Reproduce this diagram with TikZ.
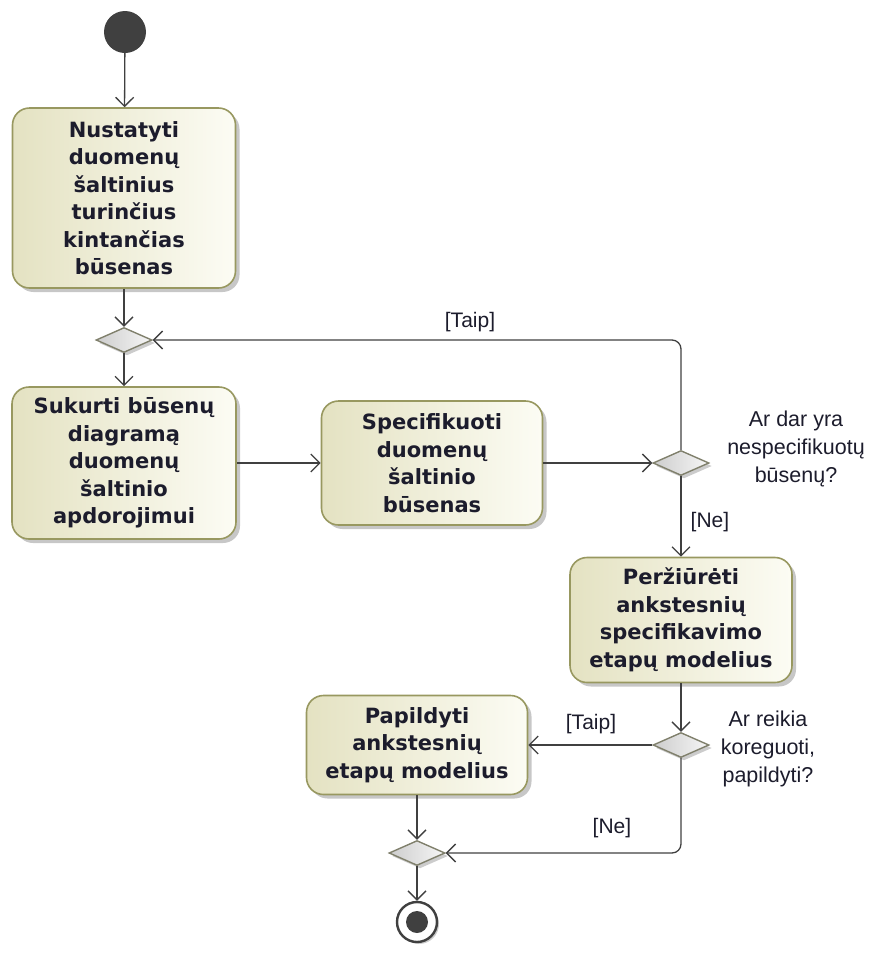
\documentclass[tikz,border=0pt]{standalone}
\usepackage{fontspec}
\setmainfont{Liberation Sans}
\newfontfamily\actionfont{DejaVu Sans}
\usetikzlibrary{shapes.geometric,arrows.meta,shadows}

\definecolor{boxtop}{RGB}{228,226,194}
\definecolor{boxbot}{RGB}{252,252,244}
\definecolor{boxline}{RGB}{152,152,96}
\definecolor{dmdA}{RGB}{205,205,205}
\definecolor{dmdB}{RGB}{246,246,246}
\definecolor{dmdline}{RGB}{128,128,108}
\definecolor{flowcol}{RGB}{64,64,64}
\definecolor{txt}{RGB}{28,28,44}

\begin{document}
\begin{tikzpicture}[x=1pt,y=-1pt,
  action/.style={rectangle, rounded corners=17pt, draw=boxline, line width=1.6pt,
    left color=boxtop, right color=boxbot,
    drop shadow={shadow xshift=4pt, shadow yshift=-4pt, fill=black!40, opacity=0.55},
    align=center, text=txt, inner sep=0pt,
    font=\fontsize{21}{27.5}\selectfont\actionfont\bfseries},
  decision/.style={diamond, draw=dmdline, line width=1.4pt,
    left color=dmdA, right color=dmdB, inner sep=0pt,
    minimum width=56pt, minimum height=25pt,
    drop shadow={shadow xshift=3pt, shadow yshift=-3pt, fill=black!40, opacity=0.5}},
  flow/.style={draw=flowcol, line width=1.3pt,
    -{Straight Barb[length=9pt,width=18pt,line width=1.3pt]}},
  guard/.style={text=txt, font=\fontsize{21}{27}\selectfont, inner sep=0pt},
  question/.style={text=txt, font=\fontsize{21.5}{28}\selectfont, align=center, inner sep=0pt},
]
\useasboundingbox (0,0) rectangle (878,954);

% start and end
\node[circle, fill=flowcol, minimum size=42pt, inner sep=0pt] (init) at (125,32) {};
\node[circle, draw=flowcol, fill=white, line width=2.4pt, minimum size=40pt, inner sep=0pt,
      drop shadow={shadow xshift=2pt, shadow yshift=-2pt, fill=black!40, opacity=0.5}]
      (final) at (417,922) {};
\node[circle, fill=flowcol, minimum size=22pt, inner sep=0pt] (finaldot) at (final.center) {};

% actions
\node[action, minimum width=223pt, minimum height=180pt] (nustatyti) at (124,198)
  {Nustatyti\\duomenų\\šaltinius\\turinčius\\kintančias\\būsenas};
\node[action, minimum width=224pt, minimum height=152pt] (sukurti) at (124,463)
  {Sukurti būsenų\\diagramą\\duomenų\\šaltinio\\apdorojimui};
\node[action, minimum width=221pt, minimum height=124pt] (specifikuoti) at (432,463)
  {Specifikuoti\\duomenų\\šaltinio\\būsenas};
\node[action, minimum width=222pt, minimum height=125pt] (perziureti) at (681,620)
  {Peržiūrėti\\ankstesnių\\specifikavimo\\etapų modelius};
\node[action, minimum width=221pt, minimum height=99pt] (papildyti) at (417,745)
  {Papildyti\\ankstesnių\\etapų modelius};

% decisions and merges
\node[decision] (m1) at (124,340) {};
\node[decision] (d1) at (681,463) {};
\node[decision] (d2) at (681,745) {};
\node[decision] (m2) at (417,853) {};

% questions
\node[question] (q1) at (796,449) {Ar dar yra\\nespecifikuotų\\būsenų?};
\node[question] (q2) at (768,749) {Ar reikia\\koreguoti,\\papildyti?};

% guards
\node[guard] (g1) at (470,322) {[Taip]};
\node[guard] (g2) at (710,522) {[Ne]};
\node[guard] (g3) at (591,724) {[Taip]};
\node[guard] (g4) at (612,828) {[Ne]};

% flows
\draw[flow] (init) -- (nustatyti);
\draw[flow] (nustatyti) -- (m1);
\draw[flow] (m1) -- (sukurti);
\draw[flow] (sukurti) -- (specifikuoti);
\draw[flow] (specifikuoti) -- (d1);
\draw[flow, rounded corners=9pt] (d1.north) |- (m1.east);
\draw[flow] (d1) -- (perziureti);
\draw[flow] (perziureti) -- (d2);
\draw[flow] (d2.west) -- (papildyti.east);
\draw[flow, rounded corners=9pt] (d2.south) |- (m2.east);
\draw[flow] (papildyti) -- (m2);
\draw[flow] (m2) -- (final);
\end{tikzpicture}
\end{document}
